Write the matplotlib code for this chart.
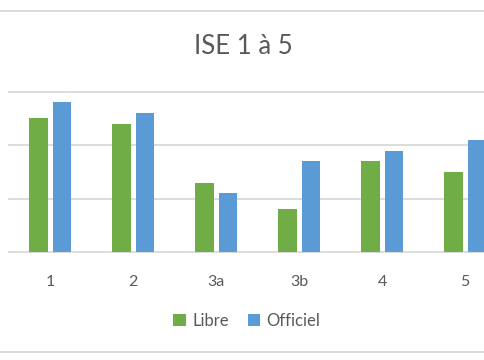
import matplotlib

matplotlib.use("Agg")
import matplotlib.pyplot as plt
from matplotlib.lines import Line2D
import numpy as np

categories = ["1", "2", "3a", "3b", "4", "5"]
libre = [25, 24, 13, 8, 17, 15]
officiel = [28, 26, 11, 17, 19, 21]
series_names = ["Libre", "Officiel"]

GREEN = "#70AD47"
BLUE = "#5B9BD5"
GRID = "#D9D9D9"
TEXT = "#595959"

plt.rcParams["font.family"] = ["Lato", "DejaVu Sans"]

W, H = 485, 360
fig = plt.figure(figsize=(W / 100, H / 100), dpi=100)

# plot area runs past the right edge (reference is cropped)
left, right = 9, 506.5
bottom, top = 252.3, 91.7
ax = fig.add_axes([left / W, 1 - bottom / H, (right - left) / W, (bottom - top) / H])

x = np.arange(len(categories))
width = 0.223
gap = 0.06
ax.bar(x - (width + gap) / 2, libre, width=width, color=GREEN, label=series_names[0], zorder=3)
ax.bar(x + (width + gap) / 2, officiel, width=width, color=BLUE, label=series_names[1], zorder=3)

ax.set_xlim(-0.5, len(categories) - 0.5)
ax.set_ylim(0, 30)
ax.set_yticks([0, 10, 20, 30])
ax.set_yticklabels([])
ax.grid(axis="y", color=GRID, linewidth=1.3, zorder=0)
for gl in ax.get_ygridlines():
    gl.set_clip_on(False)
ax.tick_params(axis="y", length=0)
ax.set_xticks(x)
ax.set_xticklabels(categories, fontsize=11.5, color=TEXT)
ax.tick_params(axis="x", length=0, pad=16)
for s in ax.spines.values():
    s.set_visible(False)

fig.text(243 / W, 1 - 47 / H, "ISE 1 à 5", ha="center", va="center", fontsize=18.5, color=TEXT)

ax.legend(loc="center", bbox_to_anchor=(247 / W, 1 - 321 / H), bbox_transform=fig.transFigure,
          ncol=2, frameon=False, fontsize=12, labelcolor=TEXT, handlelength=0.75,
          handleheight=0.75, handletextpad=0.4, columnspacing=1.1)

# chart border lines (top and bottom of the Excel chart frame)
for yy in (11, 352):
    fig.add_artist(Line2D([0, 1], [1 - yy / H, 1 - yy / H], transform=fig.transFigure,
                          color=GRID, linewidth=1.3))

fig.savefig("out.png", dpi=100)
